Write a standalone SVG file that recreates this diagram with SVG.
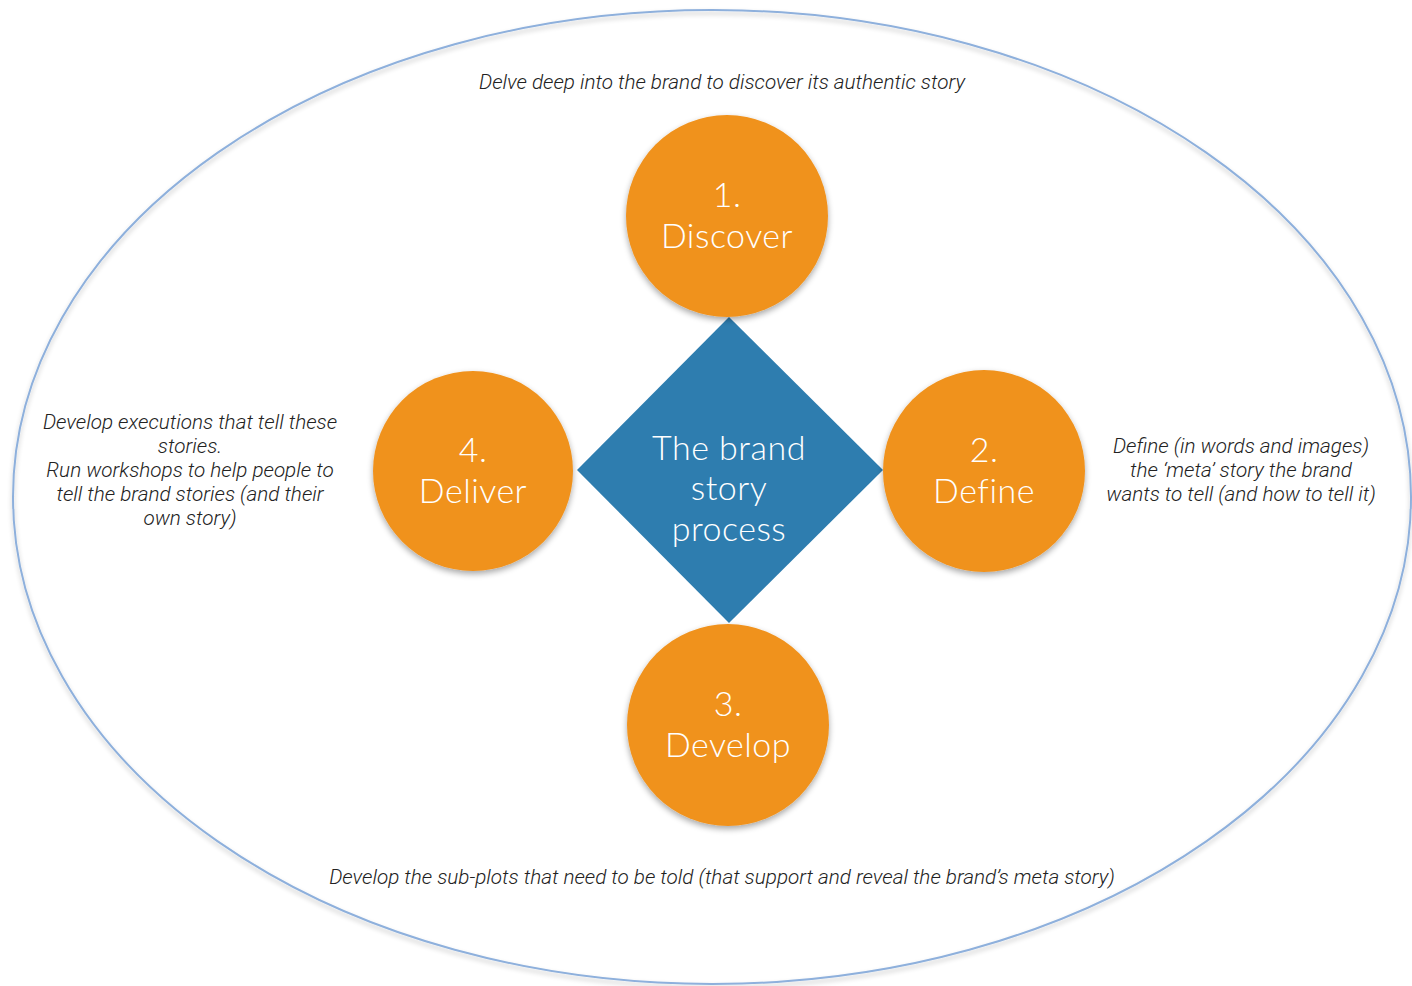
<svg xmlns="http://www.w3.org/2000/svg" width="1412" height="986" viewBox="0 0 1412 986">
  <defs>
    <filter id="soft" x="-20%" y="-20%" width="140%" height="140%">
      <feGaussianBlur in="SourceAlpha" stdDeviation="3"/>
      <feOffset dx="0" dy="3" result="b"/>
      <feComponentTransfer><feFuncA type="linear" slope="0.35"/></feComponentTransfer>
      <feMerge><feMergeNode/><feMergeNode in="SourceGraphic"/></feMerge>
    </filter>
    <filter id="lineShadow" x="-5%" y="-5%" width="110%" height="110%">
      <feGaussianBlur in="SourceAlpha" stdDeviation="2.5"/>
      <feOffset dx="0" dy="3" result="b"/>
      <feComponentTransfer><feFuncA type="linear" slope="0.25"/></feComponentTransfer>
      <feMerge><feMergeNode/><feMergeNode in="SourceGraphic"/></feMerge>
    </filter>
  </defs>
  <style>
    .step { fill: #F0921E; filter: url(#soft); }
    .hub { fill: #2E7DAF; }
    .label { font-family: Lato, "Open Sans", sans-serif; font-weight: 300; font-size: 34px; fill: #ffffff; text-anchor: middle; letter-spacing: 0.5px; }
    .note { font-family: Roboto, "Liberation Sans", sans-serif; font-style: italic; font-weight: 300; font-size: 20.7px; fill: #222222; text-anchor: middle; }
  </style>
  <rect width="1412" height="986" fill="#ffffff"/>

  <!-- outer boundary -->
  <ellipse cx="712" cy="497" rx="699" ry="487" fill="none" stroke="#8EB0DC" stroke-width="2" filter="url(#lineShadow)"/>

  <!-- centre diamond -->
  <g id="hub">
    <polygon class="hub" points="729,317 883,470 729,623 577,470"/>
    <text class="label" x="729" y="460">The brand</text>
    <text class="label" x="729" y="500">story</text>
    <text class="label" x="729" y="541">process</text>
  </g>

  <g id="discover">
    <circle class="step" cx="727" cy="216" r="101"/>
    <text class="label" x="727" y="207">1.</text>
    <text class="label" x="727" y="248">Discover</text>
  </g>

  <g id="define">
    <circle class="step" cx="984" cy="471" r="101"/>
    <text class="label" x="984" y="462">2.</text>
    <text class="label" x="984" y="503">Define</text>
  </g>

  <g id="develop">
    <circle class="step" cx="728" cy="725" r="101"/>
    <text class="label" x="728" y="716">3.</text>
    <text class="label" x="728" y="757">Develop</text>
  </g>

  <g id="deliver">
    <circle class="step" cx="473" cy="471" r="100"/>
    <text class="label" x="473" y="462">4.</text>
    <text class="label" x="473" y="503">Deliver</text>
  </g>

  <!-- descriptions -->
  <g id="notes">
    <text class="note" x="722" y="89">Delve deep into the brand to discover its authentic story</text>
    <text class="note" x="1241" y="453">Define (in words and images)</text>
    <text class="note" x="1241" y="477">the ‘meta’ story the brand</text>
    <text class="note" x="1241" y="501">wants to tell (and how to tell it)</text>
    <text class="note" x="722" y="884">Develop the sub-plots that need to be told (that support and reveal the brand’s meta story)</text>
    <text class="note" x="190" y="429">Develop executions that tell these</text>
    <text class="note" x="190" y="453">stories.</text>
    <text class="note" x="190" y="477">Run workshops to help people to</text>
    <text class="note" x="190" y="501">tell the brand stories (and their</text>
    <text class="note" x="190" y="525">own story)</text>
  </g>
</svg>
